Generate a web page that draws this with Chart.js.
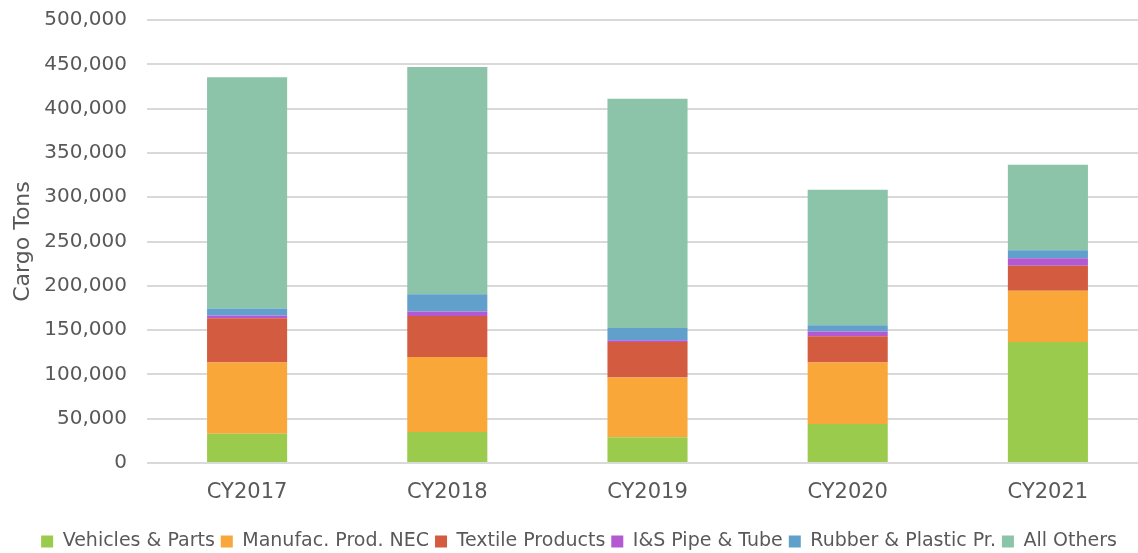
<!DOCTYPE html>
<html>
<head>
<meta charset="utf-8">
<script src="https://cdn.jsdelivr.net/npm/chart.js@4"></script>
<style>
  html, body { margin: 0; padding: 0; background: #fff; overflow: hidden; }
  #wrap { width: 1150px; height: 565px; position: relative; margin-top: -12px; }
</style>
</head>
<body>
<div id="wrap"><canvas id="c" width="1150" height="565"></canvas></div>
<script>
// Calendar years on the category axis
const years = ['CY2017', 'CY2018', 'CY2019', 'CY2020', 'CY2021'];

// Cargo tons by commodity group
const vehiclesParts   = [33000, 35000, 29000, 44000, 136500];
const manufacProdNec  = [80500, 84500, 67500, 69500, 58000];
const textileProducts = [50000, 46500, 40000, 29500, 28000];
const isPipeTube      = [3000, 5000, 2000, 5500, 8500];
const rubberPlastic   = [8000, 19500, 14000, 7000, 9000];
const allOthers       = [261000, 256500, 258500, 153000, 96500];

const seriesNames = ['Vehicles & Parts', 'Manufac. Prod. NEC', 'Textile Products',
                     'I&S Pipe & Tube', 'Rubber & Plastic Pr.', 'All Others'];
const seriesData = [vehiclesParts, manufacProdNec, textileProducts,
                    isPipeTube, rubberPlastic, allOthers];
const seriesColors = ['#9BCB4C', '#FAA73A', '#D35B40', '#B35AD2', '#60A0CB', '#8BC4A8'];

const FONT = "'DejaVu Sans', sans-serif";
const TEXT = '#595959';

const datasets = seriesNames.map((name, i) => ({
  label: name,
  data: seriesData[i],
  backgroundColor: seriesColors[i],
  borderWidth: 0,
  categoryPercentage: 1,
  barPercentage: 0.4
}));

new Chart(document.getElementById('c'), {
  type: 'bar',
  data: { labels: years, datasets },
  options: {
    responsive: false,
    animation: false,
    layout: { padding: { top: 8, right: 2, left: 10, bottom: -8 } },
    plugins: {
      tooltip: { enabled: false },
      legend: {
        position: 'bottom',
        labels: {
          color: TEXT,
          font: { family: FONT, size: 19 },
          boxWidth: 12,
          boxHeight: 12,
          padding: 6
        }
      }
    },
    scales: {
      x: {
        stacked: true,
        grid: { display: false, drawTicks: false },
        border: { display: false },
        ticks: { color: TEXT, font: { family: FONT, size: 21 }, padding: 17 },
        afterFit: (s) => { s.height = 63; }
      },
      y: {
        stacked: true,
        min: 0,
        max: 500000,
        grid: { color: '#D9D9D9', lineWidth: 2, drawTicks: false },
        border: { display: false },
        ticks: {
          stepSize: 50000,
          color: TEXT,
          font: { family: FONT, size: 20 },
          padding: 20,
          callback: (v) => v.toLocaleString('en-US')
        },
        title: {
          display: true,
          text: 'Cargo Tons',
          color: TEXT,
          font: { family: FONT, size: 22 },
          padding: { top: 0, bottom: 2 }
        },
        afterFit: (s) => { s.width = 137; }
      }
    }
  }
});
</script>
</body>
</html>
